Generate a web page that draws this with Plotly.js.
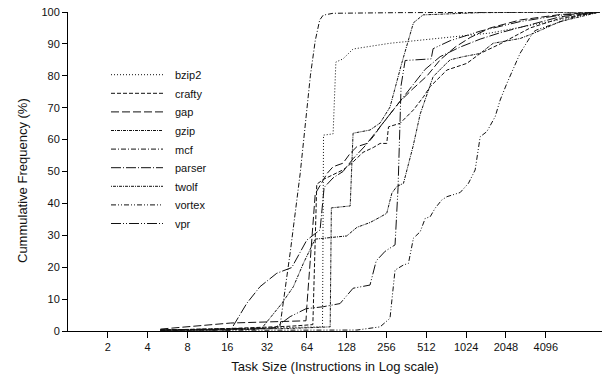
<!DOCTYPE html>
<html>
<head>
<meta charset="utf-8">
<script src="https://cdn.plot.ly/plotly-3.0.1.min.js"></script>
<style>html,body{margin:0;padding:0;background:#fff;}#chart{width:602px;height:378px;}</style>
</head>
<body>
<div id="chart"></div>
<script>
// ---- data: task size (instructions) vs cumulative frequency (%) ----
var seriesNames = ["bzip2", "crafty", "gap", "gzip", "mcf", "parser", "twolf", "vortex", "vpr"];

var bzip2_x = [5, 24, 84, 85.5, 101, 106, 120, 143, 272, 1555, 10500];
var bzip2_y = [0.3, 0.8, 1.3, 61.4, 61.8, 84.3, 85.3, 88.4, 90.2, 93.4, 100];

var crafty_x = [5, 17, 48, 71, 76, 85, 101, 120, 143, 170, 203, 229, 257, 265, 324, 409, 487, 547, 651, 732, 1037, 1307, 1851, 3122, 5264, 10500];
var crafty_y = [0.3, 0.8, 1.5, 2, 46, 47.5, 49, 50.5, 53, 56, 57.5, 58.8, 58.8, 64, 65.1, 69.3, 73.4, 76.6, 79.7, 81.8, 83.9, 87, 90, 95, 98, 100];

var gap_x = [5, 17, 63, 64, 74, 91, 101, 120, 136, 153, 183, 203, 229, 272, 324, 407, 519, 651, 846, 1098, 1555, 2623, 5264, 10500];
var gap_y = [0.6, 2.5, 3.2, 8, 43, 49.4, 51.5, 52.6, 55.7, 57.8, 58.8, 60.9, 64, 68, 72, 76, 80, 85, 89, 92, 95, 97.5, 99.2, 100];

var gzip_x = [5, 48, 96, 98, 136, 143, 192, 229, 272, 334, 409, 484, 1307, 10500];
var gzip_y = [0.2, 0.8, 1.3, 38.6, 39.2, 62, 63, 65.2, 70.2, 84, 96.6, 99.1, 99.8, 100];

var mcf_x = [5, 17, 34, 40, 48, 57, 60, 68, 74, 80, 85, 101, 324, 10500];
var mcf_y = [0.3, 0.5, 0.8, 1.3, 25, 49.5, 59, 80, 91, 97.5, 99, 99.6, 99.8, 100];

var parser_x = [5, 17, 22.5, 28.3, 37.9, 49.2, 63.9, 80.5, 86.4, 101, 120, 143, 176, 210, 250, 297, 354, 421, 501, 651, 922, 1307, 1851, 3122, 5264, 10500];
var parser_y = [0.3, 0.3, 8.7, 13.9, 18.1, 19.9, 28.5, 31.7, 45, 48, 50, 54, 58, 62, 66, 70, 74, 78, 82, 86, 89, 91.5, 93.5, 96, 98.5, 100];

var twolf_x = [5, 26, 29.2, 41.3, 50.6, 60.2, 73.8, 95.9, 128, 153, 192, 229, 257, 281, 306, 344, 365, 407, 460, 576, 686, 775, 972, 1307, 1639, 2623, 3307, 5264, 10500];
var twolf_y = [0.2, 0.5, 0.9, 8.6, 13.9, 21.2, 28.8, 29.3, 29.8, 32.5, 34, 35.7, 36.9, 43.2, 45.3, 46.3, 50.5, 58, 68, 79.7, 82.9, 85, 86, 87, 90.2, 91.7, 93.3, 97, 100];

var vortex_x = [5, 153, 229, 272, 297, 344, 375, 409, 460, 502, 547, 597, 671, 732, 922, 1066, 1198, 1307, 1468, 1697, 1851, 2080, 2623, 3307, 3507, 7455, 10500];
var vortex_y = [0.2, 0.3, 1.3, 4.0, 19.1, 20.7, 21.2, 29.1, 31.1, 35.3, 35.8, 38.5, 41.1, 42.1, 43.4, 46.3, 50.5, 60.9, 62.5, 67.2, 72.4, 77.6, 87.1, 93.8, 94.4, 99.1, 100];

var vpr_x = [5, 36.8, 47.8, 63.1, 84.9, 114, 143, 192, 214, 250, 297, 313, 330, 354, 557, 576, 775, 1307, 2623, 5264, 10500];
var vpr_y = [0.3, 1, 4.5, 7, 7.6, 8.6, 13.4, 14.4, 22, 25, 27, 45, 77, 84.8, 85.3, 88.5, 91, 94, 97, 99, 100];

var tickValues = [2, 4, 8, 16, 32, 64, 128, 256, 512, 1024, 2048, 4096];
var tickLabels = ["2", "4", "8", "16", "32", "64", "128", "256", "512", "1024", "2048", "4096"];

var xTitle = "Task Size (Instructions in Log scale)";
var yTitle = "Cummulative Frequency (%)";

// ---- styles ----
var dashes = {
  bzip2: "1px,2px",
  crafty: "4px,2px",
  gap: "8px,3px",
  gzip: "3px,1px,1px,1px",
  mcf: "5px,2px,1px,2px",
  parser: "10px,2px,1px,2px",
  twolf: "1px,1px,3px,1px",
  vortex: "5px,2px,1px,2px,1px,2px",
  vpr: "10px,2px,1px,2px,1px,2px"
};
var allX = {bzip2: bzip2_x, crafty: crafty_x, gap: gap_x, gzip: gzip_x, mcf: mcf_x, parser: parser_x, twolf: twolf_x, vortex: vortex_x, vpr: vpr_x};
var allY = {bzip2: bzip2_y, crafty: crafty_y, gap: gap_y, gzip: gzip_y, mcf: mcf_y, parser: parser_y, twolf: twolf_y, vortex: vortex_y, vpr: vpr_y};

var lineColor = "#111";
var FONT = "Liberation Sans, Arial, Helvetica, sans-serif";

var traces = seriesNames.map(function (n) {
  return {
    type: "scatter", mode: "lines", name: n,
    x: allX[n], y: allY[n],
    line: {color: lineColor, width: 1, dash: dashes[n]},
    showlegend: false, hoverinfo: "skip"
  };
});

// manual legend (long line samples like the reference)
var W = 602, H = 378, mL = 68, mR = 0, mT = 12, mB = 47;
var pw = W - mL - mR, ph = H - mT - mB;
function px2paperX(p) { return (p - mL) / pw; }
function px2paperY(p) { return (H - mB - p) / ph; }
var shapes = [], annotations = [];
seriesNames.forEach(function (n, i) {
  var py = 74.7 + i * 18.6;
  shapes.push({type: "line", xref: "paper", yref: "paper",
    x0: px2paperX(111), x1: px2paperX(163), y0: px2paperY(py), y1: px2paperY(py),
    line: {color: lineColor, width: 1, dash: dashes[n]}});
  annotations.push({xref: "paper", yref: "paper", x: px2paperX(173), y: px2paperY(py + 0.5),
    xanchor: "left", yanchor: "middle", text: n, showarrow: false,
    font: {family: FONT, size: 11, color: "#111"}});
});
// y-axis title placed like the reference (slightly below the plot centre)
annotations.push({xref: "paper", yref: "paper", x: px2paperX(22), y: px2paperY(181),
  xanchor: "center", yanchor: "middle", textangle: -90, text: yTitle, showarrow: false,
  font: {family: FONT, size: 13, color: "#111"}});

var layout = {
  width: W, height: H,
  margin: {l: mL, r: mR, t: mT, b: mB, pad: 0},
  paper_bgcolor: "#fff", plot_bgcolor: "#fff",
  font: {family: FONT, size: 11, color: "#111"},
  xaxis: {
    type: "log", range: [0, Math.log10(10900)],
    tickmode: "array", tickvals: tickValues, ticktext: tickLabels,
    ticks: "outside", ticklen: 6, tickwidth: 1, tickcolor: "#000",
    showline: true, linecolor: "#000", linewidth: 1,
    showgrid: false, zeroline: false,
    tickfont: {family: FONT, size: 11, color: "#111"},
    title: {text: xTitle, font: {family: FONT, size: 13, color: "#111"}, standoff: 9}
  },
  yaxis: {
    range: [0, 100], tick0: 0, dtick: 10,
    ticks: "outside", ticklen: 5, tickwidth: 1, tickcolor: "#000",
    showline: true, linecolor: "#000", linewidth: 1,
    showgrid: false, zeroline: false,
    tickfont: {family: FONT, size: 11, color: "#111"}
  },
  shapes: shapes,
  annotations: annotations,
  showlegend: false
};

Plotly.newPlot("chart", traces, layout, {displayModeBar: false, staticPlot: true});
</script>
</body>
</html>
